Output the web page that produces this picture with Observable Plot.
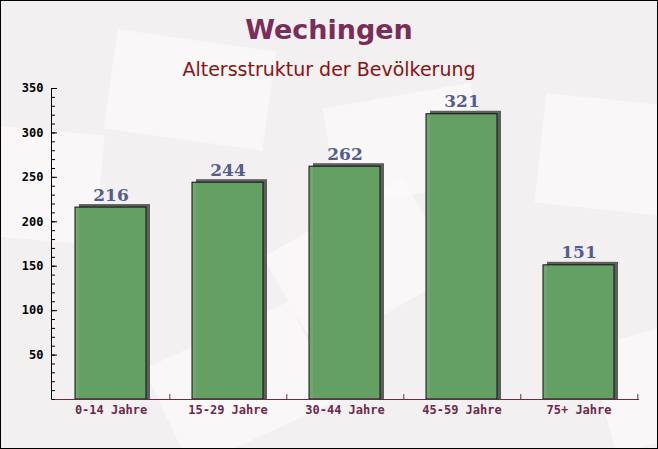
<!DOCTYPE html>
<html>
<head>
<meta charset="utf-8">
<script src="https://cdn.jsdelivr.net/npm/d3@7"></script>
<script src="https://cdn.jsdelivr.net/npm/@observablehq/plot@0.6"></script>
<style>
  html, body { margin: 0; padding: 0; }
  #fig { position: relative; width: 658px; height: 449px; background: #f3f0f2; overflow: hidden; }
  #fig .deco { position: absolute; background: #fbf9fa; opacity: 0.8; }
  #border { position: absolute; left: 0; top: 0; width: 658px; height: 449px; box-sizing: border-box; border: 1px solid #000; pointer-events: none; }
  #title { position: absolute; left: 0; top: 12px; width: 658px; text-align: center; font: bold 27px "DejaVu Sans", sans-serif; color: #7b2d5a; line-height: 36px; }
  #subtitle { position: absolute; left: 0; top: 56px; width: 658px; text-align: center; font: 19px "DejaVu Sans", sans-serif; color: #8b1212; line-height: 26px; }
  #chart { position: absolute; left: 0; top: 80px; }
</style>
</head>
<body>
<div id="fig">
  <div class="deco" style="left:110px;top:40px;width:160px;height:100px;transform:rotate(8deg)"></div>
  <div class="deco" style="left:330px;top:95px;width:150px;height:100px;transform:rotate(-10deg)"></div>
  <div class="deco" style="left:540px;top:100px;width:140px;height:110px;transform:rotate(6deg)"></div>
  <div class="deco" style="left:-20px;top:130px;width:120px;height:110px;transform:rotate(5deg)"></div>
  <div class="deco" style="left:280px;top:210px;width:160px;height:110px;transform:rotate(-30deg)"></div>
  <div class="deco" style="left:160px;top:330px;width:160px;height:110px;transform:rotate(-25deg)"></div>
  <div class="deco" style="left:600px;top:330px;width:120px;height:110px;transform:rotate(-15deg)"></div>
  <div id="title">Wechingen</div>
  <div id="subtitle">Altersstruktur der Bevölkerung</div>
  <div id="chart"></div>
  <div id="border"></div>
</div>
<script>
const categories = ["0-14 Jahre", "15-29 Jahre", "30-44 Jahre", "45-59 Jahre", "75+ Jahre"];
const values = [216, 244, 262, 321, 151];
const yMajorTicks = [50, 100, 150, 200, 250, 300, 350];
const yMinorTicks = d3.range(0, 351, 10);

const data = categories.map((c, i) => ({category: c, value: values[i]}));

const W = 658, H = 369, mL = 51, mR = 19, mT = 8, mB = 50;
const innerW = W - mL - mR;
const step = innerW / categories.length;

const chart = Plot.plot({
  width: W,
  height: H,
  marginLeft: mL,
  marginRight: mR,
  marginTop: mT,
  marginBottom: mB,
  style: {background: "transparent", overflow: "visible"},
  x: {domain: categories, paddingInner: 0.39, paddingOuter: 0.195, label: null},
  y: {domain: [0, 350], label: null},
  marks: [
    // shadow
    Plot.barY(data, {x: "category", y: "value", fill: "#5e5e5e", dx: 4, insetTop: -3}),
    // bars
    Plot.barY(data, {x: "category", y: "value", fill: "#64a364", fillOpacity: 0.95, stroke: "#111", strokeWidth: 1}),
    // value labels
    Plot.text(data, {x: "category", y: "value", text: d => String(d.value), dy: -7, lineAnchor: "bottom",
      fontFamily: "DejaVu Serif", fontWeight: "bold", fontSize: 17, fill: "#565d8c"}),
    // y axis line
    Plot.frame({anchor: "left", stroke: "#000"}),
    // x axis line
    Plot.ruleY([0], {stroke: "#6b2a4a"}),
    // x ticks at band boundaries
    Plot.ruleX(categories, {x: d => d, dx: step / 2, y1: 0, y2: 5.6, stroke: "#6b2a4a"}),
    // y minor ticks (inward)
    Plot.axisY({anchor: "right", ticks: yMinorTicks, tickSize: 3, tickFormat: () => "", stroke: "#000", dx: -innerW}),
    // y major ticks (inward)
    Plot.axisY({anchor: "right", ticks: yMajorTicks, tickSize: 5, tickFormat: () => "", stroke: "#000", dx: -innerW}),
    // y labels
    Plot.axisY({ticks: yMajorTicks, tickSize: 0, tickPadding: 8, fontFamily: "DejaVu Sans Mono", fontWeight: "bold", fontSize: 12, fill: "#000"}),
    // x labels
    Plot.axisX({tickSize: 0, tickPadding: 6, fontFamily: "DejaVu Sans Mono", fontWeight: "bold", fontSize: 12, fill: "#6b2a4a"})
  ]
});
document.getElementById("chart").appendChild(chart);
</script>
</body>
</html>
